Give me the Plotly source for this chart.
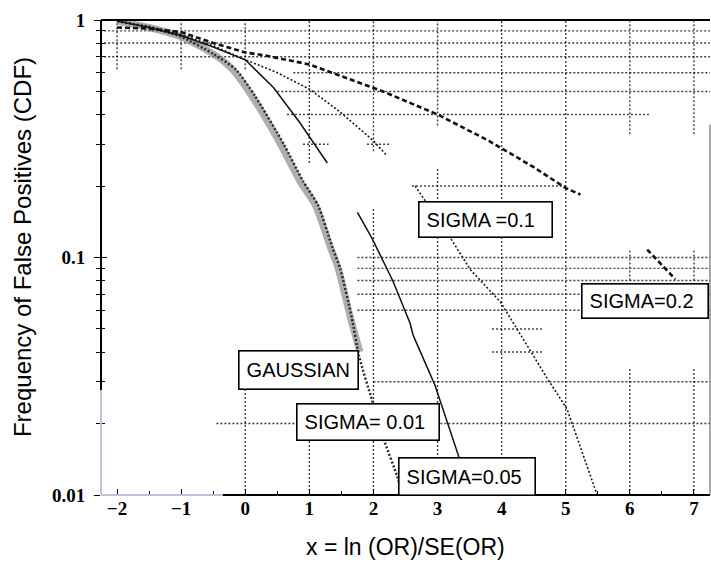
import plotly.graph_objects as go

# ---- curves: x = ln(OR)/SE(OR), y = cumulative frequency of false positives ----
gauss_x = [-2.0, -1.5, -1.0, -0.5, -0.2, 0.1, 0.55, 0.85, 1.1, 1.33, 1.45, 1.64, 1.79]
gauss_y = [0.99, 0.93, 0.85, 0.72, 0.62, 0.48, 0.30, 0.21, 0.165, 0.11, 0.09, 0.056, 0.04]

s001_x = [-2.0, -1.5, -1.0, -0.5, -0.15, 0.15, 0.6, 0.9, 1.14, 1.36, 1.48, 1.66, 1.78, 1.98, 2.18, 2.37, 2.45]
s001_y = [0.99, 0.93, 0.85, 0.72, 0.62, 0.48, 0.30, 0.21, 0.165, 0.11, 0.09, 0.056, 0.038, 0.025, 0.0166, 0.012, 0.01]

s005_x = [-2.0, -1.5, -1.0, -0.5, 0.0, 0.44, 0.85, 1.28, None, 1.75, 1.98, 2.3, 2.57, 2.62, 2.96, 3.35, 3.42]
s005_y = [0.99, 0.93, 0.86, 0.77, 0.68, 0.52, 0.37, 0.25, None, 0.155, 0.12, 0.08, 0.053, 0.047, 0.029, 0.014, 0.0125]

s01_x = [-2.0, -1.5, -1.0, -0.5, 0.0, 0.5, 1.01, 1.48, 2.0, 2.2, None, 2.65, 3.2, 3.51, 3.98, 4.24, 4.71, 5.02, 5.49]
s01_y = [0.99, 0.94, 0.87, 0.78, 0.68, 0.60, 0.51, 0.41, 0.31, 0.27, None, 0.20, 0.121, 0.089, 0.065, 0.050, 0.031, 0.023, 0.01]

s02_x = [-2.0, -1.5, -1.0, -0.5, 0.0, 0.3, 1.0, 1.8, 2.15, 3.0, 3.8, 4.5, 5.0, 5.23, None, 6.27, 6.71]
s02_y = [0.93, 0.92, 0.89, 0.80, 0.73, 0.71, 0.65, 0.54, 0.50, 0.40, 0.31, 0.24, 0.196, 0.184, None, 0.108, 0.081]

curve_labels = ["GAUSSIAN", "SIGMA= 0.01", "SIGMA=0.05", "SIGMA =0.1", "SIGMA=0.2"]

x_ticks = [-2, -1, 0, 1, 2, 3, 4, 5, 6, 7]
x_minor = [-1.5, -0.5, 0.5, 1.5, 2.5, 3.5, 4.5, 5.5, 6.5]
y_ticks = [0.01, 0.1, 1]
y_tick_text = ["0.01", "0.1", "1"]
y_minor = [m * d for d in (0.01, 0.1) for m in range(2, 10)]

x_title = "x = ln (OR)/SE(OR)"
y_title = "Frequency of False Positives (CDF)"

# dotted grid, drawn in pieces: (y, x_from, x_to) and (x, y_from, y_to)
h_grid = [
    (0.9, -2.2, 7.25), (0.8, -2.2, 7.25), (0.7, -2.2, 7.25),
    (0.6, 0.75, 7.25), (0.5, 0.5, 7.25), (0.4, 0.65, 6.3),
    (0.3, 0.9, 1.3), (0.3, 1.9, 2.25),
    (0.2, 2.6, 5.0),
    (0.1, 1.75, 7.25), (0.09, 1.75, 7.25), (0.08, 1.75, 7.25),
    (0.07, 1.75, 7.25), (0.06, 1.75, 7.25),
    (0.05, 3.85, 4.65), (0.04, 3.85, 4.65),
    (0.03, 2.0, 7.25), (0.02, -0.45, 7.25),
]
v_grid = [
    (-2, 0.62, 1), (-1, 0.62, 1), (0, 0.62, 1), (0, 0.01, 0.028),
    (1, 0.25, 1), (1, 0.01, 0.017),
    (2, 0.28, 1), (2, 0.01, 0.16),
    (3, 0.36, 1), (3, 0.01, 0.24),
    (4, 0.01, 1), (5, 0.01, 1),
    (6, 0.33, 1), (6, 0.08, 0.107), (6, 0.01, 0.034),
    (7, 0.33, 1), (7, 0.08, 0.107), (7, 0.01, 0.034),
]

X_RANGE = [-2.25, 7.25]
Y_RANGE = [-2, 0]

fig = go.Figure()

grid_line = dict(color="#000000", width=1.4, dash="2px,2px", simplify=False)
for yv, xa, xb in h_grid:
    fig.add_trace(go.Scatter(x=[xa, xb], y=[yv, yv], mode="lines",
                             hoverinfo="skip", line=grid_line, opacity=0.75))
for xv, ya, yb in v_grid:
    fig.add_trace(go.Scatter(x=[xv, xv], y=[ya, yb], mode="lines",
                             hoverinfo="skip", line=grid_line, opacity=0.75))

# gaussian reference: broad grey band
fig.add_trace(go.Scatter(x=gauss_x, y=gauss_y, mode="lines", name=curve_labels[0],
                         line=dict(color="rgba(140,140,140,0.7)", width=7, shape="spline", smoothing=0.6)))
fig.add_trace(go.Scatter(x=s001_x, y=s001_y, mode="lines", name=curve_labels[1],
                         line=dict(color="#2a2a2a", width=2.5, dash="2px,2px", shape="spline", smoothing=0.6)))
fig.add_trace(go.Scatter(x=s005_x, y=s005_y, mode="lines", name=curve_labels[2],
                         line=dict(color="#111111", width=1.5), connectgaps=False))
fig.add_trace(go.Scatter(x=s01_x, y=s01_y, mode="lines", name=curve_labels[3],
                         line=dict(color="#1a1a1a", width=1.6, dash="2px,2px"), connectgaps=False))
fig.add_trace(go.Scatter(x=s02_x, y=s02_y, mode="lines", name=curve_labels[4],
                         line=dict(color="#111111", width=2.6, dash="5px,3px"), connectgaps=False))
# second y axis only carries the inner half of the crossing ticks
fig.add_trace(go.Scatter(x=[None], y=[None], yaxis="y2", showlegend=False, hoverinfo="skip"))

tick_font = dict(family="Liberation Serif", size=19, color="black", weight="bold")
fig.update_layout(
    width=711, height=564,
    margin=dict(l=101, r=1, t=20, b=69),
    paper_bgcolor="white", plot_bgcolor="white",
    showlegend=False,
    xaxis=dict(range=X_RANGE, showgrid=False, zeroline=False, showline=False,
               tickmode="array", tickvals=x_ticks, ticks="inside", ticklen=6,
               tickwidth=1.2, tickcolor="black", tickfont=tick_font,
               minor=dict(tickmode="array", tickvals=x_minor, ticks="inside",
                          ticklen=4, tickcolor="black", showgrid=False)),
    yaxis=dict(type="log", range=Y_RANGE, showgrid=False, zeroline=False, showline=False,
               tickmode="array", tickvals=y_ticks, ticktext=y_tick_text,
               ticks="outside", ticklen=6, tickwidth=1.2, tickcolor="black",
               tickfont=tick_font, ticklabelstandoff=5,
               minor=dict(tickmode="array", tickvals=y_minor, ticks="outside",
                          ticklen=4, tickcolor="black", showgrid=False)),
    yaxis2=dict(type="log", range=Y_RANGE, overlaying="y", side="left", anchor="x",
                showgrid=False, zeroline=False, showline=False, showticklabels=False,
                tickmode="array", tickvals=y_ticks, ticks="inside", ticklen=6,
                tickcolor="black",
                minor=dict(tickmode="array", tickvals=y_minor, ticks="inside",
                           ticklen=4, tickcolor="black", showgrid=False)),
)

# frame
frame = [
    dict(x0=0, x1=0, y0=0.221, y1=1, color="black", width=2),
    dict(x0=0, x1=0, y0=0, y1=0.221, color="#c4c0da", width=2),
    dict(x0=0, x1=0.2, y0=0, y1=0, color="#c4c0da", width=2),
    dict(x0=0.2, x1=1, y0=0, y1=0, color="black", width=2),
    dict(x0=0, x1=1, y0=1, y1=1, color="black", width=2),
    dict(x0=1, x1=1, y0=0, y1=0.78, color="#555555", width=1),
]
for f in frame:
    fig.add_shape(type="line", xref="paper", yref="paper",
                  x0=f["x0"], x1=f["x1"], y0=f["y0"], y1=f["y1"],
                  line=dict(color=f["color"], width=f["width"]))

# boxed curve labels (x, log10 y of the box centre, box width, box height)
label_boxes = [
    (0.827, -1.475, 120, 39),
    (1.919, -1.691, 143, 37),
    (3.463, -1.924, 137, 38),
    (3.752, -0.839, 134, 36),
    (6.24, -1.182, 127, 35),
]
pad = 7
for text, (bx, by, bw, bh) in zip(curve_labels, label_boxes):
    fig.add_annotation(x=bx, y=by, xref="x", yref="y", text=text, showarrow=False,
                       xanchor="center", yanchor="middle", align="left", valign="middle",
                       width=bw - 2 * pad - 2, height=bh - 2 * pad - 2,
                       borderpad=pad, bordercolor="black", borderwidth=1.6,
                       bgcolor="white",
                       font=dict(family="Liberation Sans", size=20, color="black"))

fig.add_annotation(x=-0.1297, y=0.522, xref="paper", yref="paper", text=y_title,
                   textangle=-90, showarrow=False, xanchor="center", yanchor="middle",
                   font=dict(family="Liberation Sans", size=24, color="black"))
fig.add_annotation(x=0.5008, y=-0.1095, xref="paper", yref="paper", text=x_title,
                   showarrow=False, xanchor="center", yanchor="middle",
                   font=dict(family="Liberation Sans", size=23, color="black"))

fig.write_html("out.html")
